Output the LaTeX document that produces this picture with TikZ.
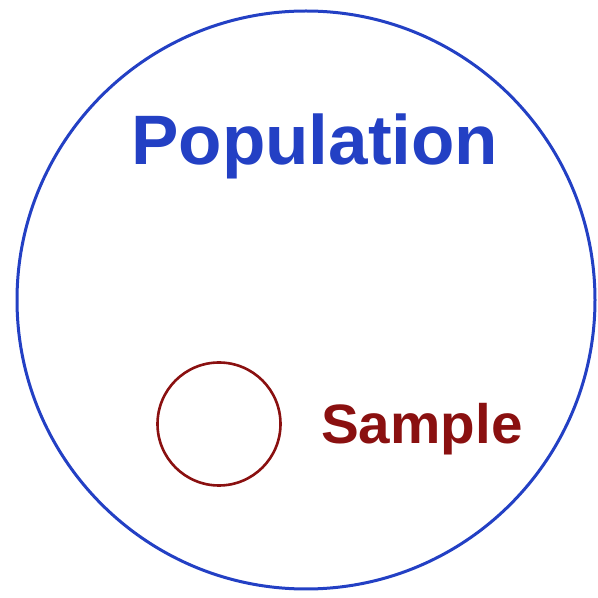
\documentclass[tikz,border=0pt]{standalone}
\usepackage{fontspec}
\setmainfont{Liberation Sans}
\definecolor{popblue}{HTML}{2340C4}
\definecolor{samred}{HTML}{8A1010}
\begin{document}
\begin{tikzpicture}[x=1pt,y=1pt,
  popcircle/.style={circle,draw=popblue,line width=3pt,minimum size=578pt,inner sep=0pt},
  samcircle/.style={circle,draw=samred,line width=2.6pt,minimum size=123pt,inner sep=0pt},
  label text/.style={inner sep=0pt,font=\bfseries}]
\useasboundingbox (0,0) rectangle (598,598);
\node[popcircle] (pop) at (306,298) {};
\node[samcircle] (sam) at (219,174) {};
\node[label text,text=popblue,anchor=base west] (poplabel) at (131,433)
  {\scalebox{1.015}[1]{\fontsize{70}{72}\selectfont Population}};
\node[label text,text=samred,anchor=base west] (samlabel) at (321,154)
  {\scalebox{1.02}[1]{\fontsize{55.5}{58}\selectfont Sample}};
\end{tikzpicture}
\end{document}
